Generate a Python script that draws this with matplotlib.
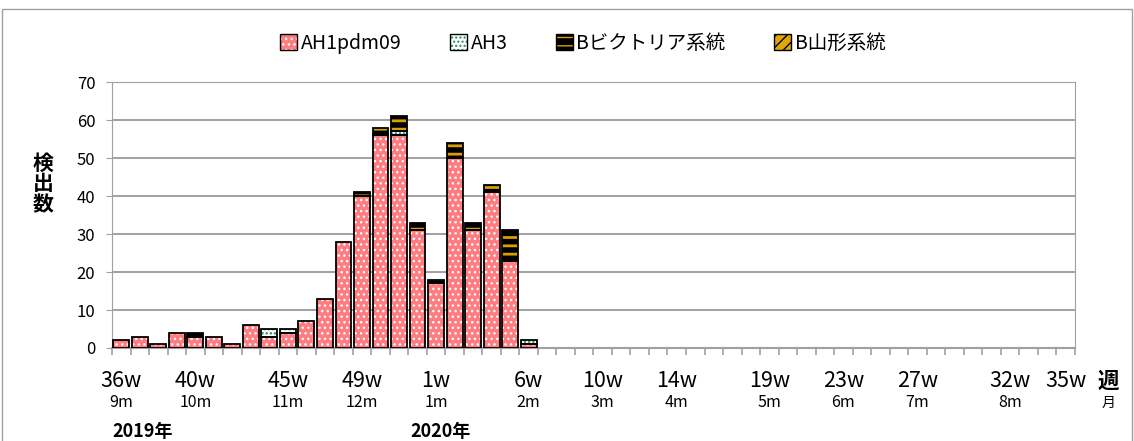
"""インフルエンザウイルス 週別検出数 (2019/20シーズン) の積み上げ棒グラフ"""
import numpy as np
import matplotlib
matplotlib.use('Agg')
import matplotlib.pyplot as plt
from matplotlib.patches import Patch, Rectangle

plt.rcParams['font.family'] = ['Noto Sans CJK JP', 'DejaVu Sans']

# 36w(2019) .. 35w(2020)
weeks = [f'{w}w' for w in range(36, 53)] + [f'{w}w' for w in range(1, 36)]
ah1 = [2, 3, 1, 4, 3, 3, 1, 6, 3, 4, 7, 13, 28, 40, 56, 56, 31, 17, 50, 31, 41, 23, 1,
       0, 0, 0, 0, 0, 0, 0, 0, 0, 0, 0, 0, 0, 0, 0, 0, 0, 0, 0, 0, 0, 0, 0, 0, 0, 0, 0, 0, 0]
ah3 = [0, 0, 0, 0, 0, 0, 0, 0, 2, 1, 0, 0, 0, 0, 0, 1, 0, 0, 0, 0, 0, 0, 1,
       0, 0, 0, 0, 0, 0, 0, 0, 0, 0, 0, 0, 0, 0, 0, 0, 0, 0, 0, 0, 0, 0, 0, 0, 0, 0, 0, 0, 0]
vic = [0, 0, 0, 0, 1, 0, 0, 0, 0, 0, 0, 0, 0, 1, 2, 4, 2, 1, 4, 2, 2, 8, 0,
       0, 0, 0, 0, 0, 0, 0, 0, 0, 0, 0, 0, 0, 0, 0, 0, 0, 0, 0, 0, 0, 0, 0, 0, 0, 0, 0, 0, 0]
yam = [0] * 52

series_names = ['AH1pdm09', 'AH3', 'Bビクトリア系統', 'B山形系統']
label_weeks = ['36w', '40w', '45w', '49w', '1w', '6w', '10w', '14w', '19w', '23w', '27w', '32w', '35w']
label_months = ['9m', '10m', '11m', '12m', '1m', '2m', '3m', '4m', '5m', '6m', '7m', '8m', '']
years = ['2019年', '2020年']
year_weeks = ['36w', '49w']

# face, hatch, hatch colour, hatch linewidth
styles = [('#FF7C80', '...', 'white', 1.0),
          ('white', '....', '#1E9050', 1.2),
          ('black', '--', '#D9A000', 2.0),
          ('#E0A800', '///', 'black', 2.0)]

fig = plt.figure(figsize=(11.34, 4.41), dpi=100)
ax = fig.add_axes([0.0988, 0.2109, 0.849, 0.603])

x = np.arange(len(weeks))
width = 0.86
bottom = np.zeros(len(weeks))
handles = []
for vals, (face, hatch, hc, hlw) in zip([ah1, ah3, vic, yam], styles):
    v = np.array(vals, dtype=float)
    idx = np.nonzero(v)[0]
    if len(idx):
        with plt.rc_context({'hatch.linewidth': hlw}):
            bars = ax.bar(x[idx], v[idx], width, bottom=bottom[idx], color=face,
                          hatch=hatch, edgecolor=hc, linewidth=0, zorder=3)
        for b in bars:
            if hasattr(b, 'set_hatch_linewidth'):
                b.set_hatch_linewidth(hlw)
        ax.bar(x[idx], v[idx], width, bottom=bottom[idx], fill=False,
               edgecolor='black', linewidth=1.3, zorder=4)
    bottom += v
    with plt.rc_context({'hatch.linewidth': hlw}):
        hp = Patch(facecolor=face, hatch=hatch, edgecolor=hc, linewidth=0)
    if hasattr(hp, 'set_hatch_linewidth'):
        hp.set_hatch_linewidth(hlw)
    handles.append((hp, Patch(fill=False, edgecolor='black', linewidth=1.0)))

ax.set_xlim(-0.5, len(weeks) - 0.5)
ax.set_ylim(0, 70)
ax.set_yticks(range(0, 71, 10))
ax.yaxis.grid(True, color='#A0A0A0', lw=1.4)
ax.set_axisbelow(True)
ax.set_xticks(np.arange(-0.5, len(weeks), 1))
ax.set_xticklabels([])
ax.tick_params(axis='x', length=5, color='#A0A0A0', width=1.2)
ax.tick_params(axis='y', length=4, color='#A0A0A0', labelsize=12, pad=8)
for s in ax.spines.values():
    s.set_color('#A0A0A0')
ax.spines['bottom'].set_linewidth(1.5)

tr = ax.get_xaxis_transform()
for wl, ml in zip(label_weeks, label_months):
    i = weeks.index(wl)
    ax.text(i, -0.125, wl, transform=tr, ha='center', va='center', fontsize=15.5)
    ax.text(i, -0.205, ml, transform=tr, ha='center', va='center', fontsize=11.5)
ax.text(len(weeks) + 1.3, -0.125, '週', transform=tr, ha='center', va='center',
        fontsize=15.5, fontweight='bold')
ax.text(len(weeks) + 1.3, -0.205, '月', transform=tr, ha='center', va='center', fontsize=10)
ax.text(weeks.index(year_weeks[0]) - 0.5, -0.315, years[0], transform=tr, ha='left',
        va='center', fontsize=13, fontweight='bold')
ax.text(weeks.index(year_weeks[1]) + 2.6, -0.315, years[1], transform=tr, ha='left',
        va='center', fontsize=13, fontweight='bold')

fig.text(0.038, 0.583, '検\n出\n数', ha='center', va='center', fontsize=15,
         fontweight='bold', linespacing=1.0)

fig.legend(handles, series_names, loc='center', bbox_to_anchor=(0.514, 0.902), ncol=4,
           frameon=False, fontsize=14, handlelength=0.85, handleheight=0.85,
           handletextpad=0.2, columnspacing=2.5)

fig.patches.append(Rectangle((0.002, -0.01), 0.996, 0.99, transform=fig.transFigure,
                             fill=False, edgecolor='#A0A0A0', lw=1.0))

plt.savefig('out.png', dpi=100)
